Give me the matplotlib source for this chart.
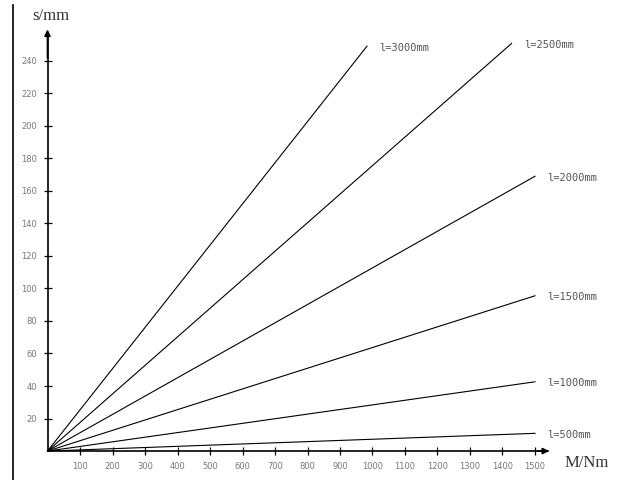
import matplotlib.pyplot as plt
from matplotlib.lines import Line2D

# data: each line goes from the origin to its end point
lengths = [500, 1000, 1500, 2000, 2500, 3000]
m_end = [1500, 1500, 1500, 1500, 1428, 983]
s_end = [10.9, 42.6, 95.5, 169, 250.7, 249]
labels = ['l=500mm', 'l=1000mm', 'l=1500mm', 'l=2000mm', 'l=2500mm', 'l=3000mm']

x_ticks = list(range(100, 1600, 100))
y_ticks = list(range(20, 260, 20))

fig = plt.figure(figsize=(6.19, 4.8), dpi=100)
ax = fig.add_axes([0, 0, 1, 1])
ax.set_xlim(-146.2, 1758.5)
ax.set_ylim(-17.8, 277.4)

for m, s, lab in zip(m_end, s_end, labels):
    ax.plot([0, m], [0, s], color='black', lw=0.8)
    ax.annotate(lab, xy=(m, s), xytext=(9, -1), textcoords='offset points',
                va='center', ha='left', fontsize=7.5, color='#555555',
                family='DejaVu Sans Mono')

# axes through the origin
for side in ['top', 'right']:
    ax.spines[side].set_visible(False)
ax.spines['left'].set_position(('data', 0))
ax.spines['bottom'].set_position(('data', 0))
ax.spines['left'].set_bounds(0, 255)
ax.spines['bottom'].set_bounds(0, 1540)
ax.spines['left'].set_linewidth(1.2)
ax.spines['bottom'].set_linewidth(1.2)

ax.annotate('', xy=(0, 261), xytext=(0, 240),
            arrowprops=dict(arrowstyle='-|>', color='black', lw=1.2, mutation_scale=9))
ax.annotate('', xy=(1552, 0), xytext=(1500, 0),
            arrowprops=dict(arrowstyle='-|>', color='black', lw=1.2, mutation_scale=9))

ax.set_xticks(x_ticks)
ax.set_yticks(y_ticks)
ax.tick_params(direction='inout', length=5.5, width=0.9, labelsize=6,
               labelcolor='#777777', pad=5)

ax.text(10, 267.5, 's/mm', ha='center', va='center', fontsize=12,
        family='Liberation Serif', color='#333333')
ax.text(1590, -7.5, 'M/Nm', ha='left', va='center', fontsize=12,
        family='Liberation Serif', color='#333333')

# left border line
fig.add_artist(Line2D([13 / 619, 13 / 619], [0, 0.99], color='black', lw=1.2))

fig.savefig('out.png', dpi=100)
